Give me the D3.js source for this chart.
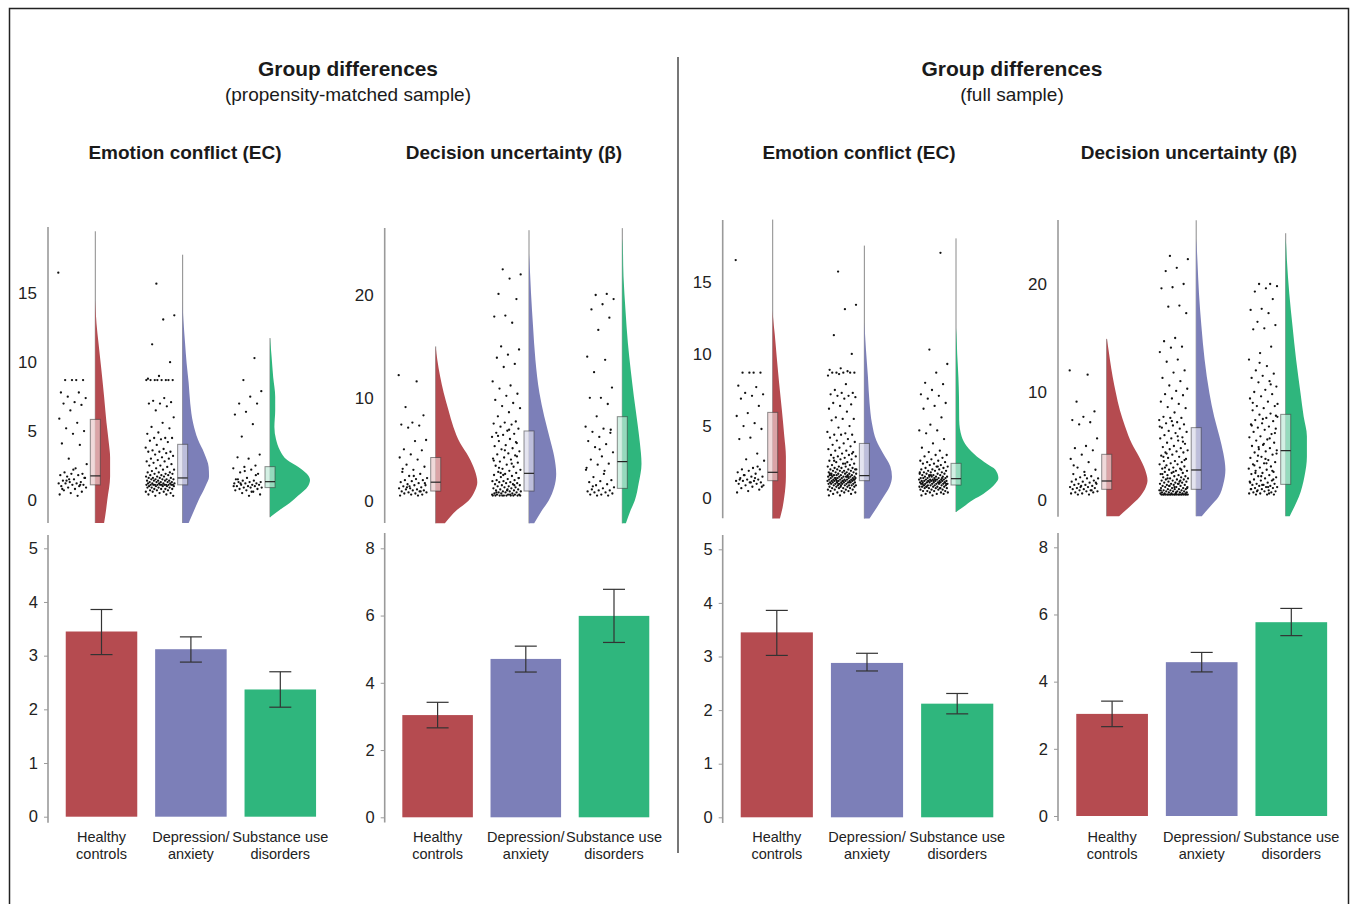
<!DOCTYPE html>
<html>
<head>
<meta charset="utf-8">
<script src="https://cdn.jsdelivr.net/npm/d3@7"></script>
<style>
  body { margin: 0; background: #fff; }
  svg { display: block; }
</style>
</head>
<body>
<svg id="chart" width="1355" height="904"></svg>
<script>
const FONT = '"Liberation Sans", Arial, Helvetica, sans-serif';

// ---- labels ----
const groups = ["Healthy controls", "Depression/anxiety", "Substance use disorders"];
const groupLines = [["Healthy", "controls"], ["Depression/", "anxiety"], ["Substance use", "disorders"]];
const colors = ["#b54b50", "#7c7fb8", "#2fb67d"];
const sectionTitles = ["Group differences", "Group differences"];
const sectionSubtitles = ["(propensity-matched sample)", "(full sample)"];
const panelTitles = ["Emotion conflict (EC)", "Decision uncertainty (β)", "Emotion conflict (EC)", "Decision uncertainty (β)"];

// ---- tick labels ----
const ecCloudTicks = [0, 5, 10, 15];
const betaCloudTicks = [0, 10, 20];
const ecBarTicks = [0, 1, 2, 3, 4, 5];
const betaBarTicks = [0, 2, 4, 6, 8];

// ---- bar means and error bars (lo / hi) ----
const ecMatchedMean = [3.45, 3.12, 2.37];
const ecMatchedLo = [3.02, 2.88, 2.04];
const ecMatchedHi = [3.86, 3.35, 2.70];
const betaMatchedMean = [3.04, 4.71, 5.99];
const betaMatchedLo = [2.66, 4.32, 5.20];
const betaMatchedHi = [3.42, 5.09, 6.78];
const ecFullMean = [3.45, 2.88, 2.12];
const ecFullLo = [3.02, 2.73, 1.93];
const ecFullHi = [3.86, 3.06, 2.31];
const betaFullMean = [3.04, 4.58, 5.77];
const betaFullLo = [2.66, 4.29, 5.37];
const betaFullHi = [3.42, 4.87, 6.18];

// ---- box plot quartiles ----
const ecMatchedQ1 = [1.10, 1.10, 0.90], ecMatchedMed = [1.75, 1.60, 1.33], ecMatchedQ3 = [5.85, 4.04, 2.42];
const betaMatchedQ1 = [0.94, 0.94, 1.20], betaMatchedMed = [1.80, 2.66, 3.80], betaMatchedQ3 = [4.20, 6.78, 8.17];
const ecFullQ1 = [1.22, 1.22, 0.92], ecFullMed = [1.80, 1.57, 1.36], ecFullQ3 = [5.95, 3.80, 2.42];
const betaFullQ1 = [0.99, 0.99, 1.45], betaFullMed = [1.76, 2.78, 4.57], betaFullQ3 = [4.23, 6.70, 7.93];

// ---- violin density profiles [value, density] and upper tail ends ----
const ecMatchedViolin = [
  [[-1.67,.22],[-0.7,.27],[0,.30],[1.7,.37],[3.1,.37],[4.1,.34],[5.6,.28],[7.5,.22],[9.5,.15],[11.4,.08],[12.8,.03],[13.8,.01],[14.5,0]],
  [[-1.67,.15],[-0.8,.28],[0,.40],[1.0,.57],[1.7,.66],[2.4,.65],[3.4,.54],[4.4,.38],[5.6,.26],[7.0,.19],[8.5,.15],[9.9,.10],[11.4,.06],[13.0,.02],[13.8,.005],[14.5,0]],
  [[-1.25,0],[-0.7,.25],[-0.2,.50],[0.3,.70],[1.0,.95],[1.45,1.0],[1.9,.92],[2.4,.71],[2.9,.43],[3.6,.25],[4.4,.15],[5.3,.11],[6.5,.13],[7.5,.13],[8.9,.08],[10.4,.04],[11.75,0]]
];
const ecMatchedTail = [19.5, 17.8, 11.75];
const betaMatchedViolin = [
  [[-2.2,.23],[-0.9,.53],[0,.82],[0.97,.98],[1.8,1.04],[2.9,.98],[4.3,.82],[5.6,.61],[7.2,.44],[8.8,.32],[10.5,.20],[12.1,.11],[13.7,.04],[15,0]],
  [[-2.2,.13],[-0.9,.33],[0,.49],[1.3,.63],[2.6,.68],[4.3,.63],[5.9,.53],[8.2,.38],[10.5,.26],[13.7,.16],[17,.10],[20.2,.05],[23.4,.01],[24,0]],
  [[-2.2,.09],[-0.9,.21],[0,.31],[1.7,.41],[3.6,.48],[5.6,.44],[7.5,.38],[10.1,.29],[12.7,.21],[15.3,.14],[18.5,.08],[21.8,.03],[25,.01],[25.5,0]]
];
const betaMatchedTail = [15.0, 26.3, 26.5];
const ecFullViolin = [
  [[-1.4,.18],[-0.6,.25],[0.1,.29],[1.5,.33],[2.9,.33],[4.3,.29],[6.1,.23],[8.0,.16],[9.8,.10],[11.4,.05],[12.5,.01],[13,0]],
  [[-1.4,.13],[-0.6,.32],[0.1,.48],[0.8,.63],[1.5,.69],[2.2,.65],[3.1,.47],[4.0,.30],[5.2,.19],[6.6,.13],[8.4,.09],[10.3,.04],[11.7,.01],[12.2,0]],
  [[-0.95,0],[-0.6,.18],[-0.1,.43],[0.3,.68],[1.0,.98],[1.4,1.06],[2.0,.98],[2.4,.77],[2.9,.52],[3.6,.27],[4.3,.14],[5.4,.08],[7.0,.075],[8.4,.06],[10.0,.03],[11.4,.01],[11.8,0]]
];
const ecFullTail = [19.3, 17.5, 18.0];
const betaFullViolin = [
  [[-1.5,.31],[-0.6,.58],[0.3,.83],[1.2,.98],[1.8,1.02],[2.8,.96],[4.0,.81],[5.2,.63],[6.8,.46],[8.3,.33],[9.9,.23],[11.4,.15],[13.0,.08],[14.8,.01],[15,0]],
  [[-1.5,.14],[-0.6,.35],[0.3,.56],[1.5,.68],[2.8,.73],[4.3,.68],[5.9,.58],[7.7,.45],[9.9,.33],[13.0,.21],[16.1,.13],[19.1,.07],[22.2,.03],[23.7,.01],[24.2,0]],
  [[-1.5,.10],[-0.6,.22],[0.3,.33],[2.2,.47],[4.0,.53],[5.9,.53],[7.7,.45],[9.9,.37],[13.0,.26],[16.1,.17],[19.1,.09],[22.2,.03],[23.7,.01],[24.2,0]]
];
const betaFullTail = [14.9, 25.9, 24.7];

// ---- individual participants (raw points) ----
const ecMatchedHC = [16.5, 8.7, 8.7, 8.7, 8.7, 7.8, 7.8, 7.5, 7.4, 7.1, 7.0, 6.9, 6.5, 5.9, 5.6, 5.2, 5.0, 4.8, 4.1, 4.0, 3.0, 2.6, 2.3, 2.0, 1.9, 1.9, 1.8, 1.8, 1.7, 1.6, 1.5, 1.4, 1.3, 1.3, 1.2, 1.2, 1.2, 1.1, 1.1, 1.0, 1.0, 0.9, 0.9, 0.8, 0.7, 0.6, 0.5, 0.4, 0.3, 1.4, 1.6, 2.2, 0.8, 1.1, 1.5];
const ecMatchedDA = [15.7, 13.4, 13.1, 11.3, 10.0, 9.0, 8.8, 8.7, 8.7, 8.7, 8.7, 8.7, 8.7, 8.7, 8.7, 7.4, 7.2, 7.1, 7.0, 7.0, 6.8, 6.5, 6.0, 5.6, 5.3, 5.2, 4.9, 4.8, 4.5, 4.5, 4.5, 4.4, 4.3, 4.2, 4.0, 3.8, 3.7, 3.6, 3.5, 3.5, 3.5, 3.4, 3.3, 3.2, 3.1, 3.0, 3.0, 2.9, 2.8, 2.8, 2.7, 2.6, 2.5, 2.5, 2.4, 2.3, 2.2, 2.2, 2.1, 2.0, 2.0, 2.0, 1.9, 1.9, 1.9, 1.8, 1.8, 1.8, 1.7, 1.7, 1.7, 1.6, 1.6, 1.6, 1.6, 1.5, 1.5, 1.5, 1.5, 1.5, 1.4, 1.4, 1.4, 1.4, 1.4, 1.3, 1.3, 1.3, 1.3, 1.3, 1.2, 1.2, 1.2, 1.2, 1.2, 1.2, 1.1, 1.1, 1.1, 1.1, 1.1, 1.1, 1.1, 1.1, 1.1, 1.1, 1.1, 1.1, 1.0, 1.0, 1.0, 1.0, 1.0, 0.9, 0.9, 0.9, 0.9, 0.8, 0.8, 0.8, 0.8, 0.7, 0.7, 0.7, 0.6, 0.6, 0.6, 0.5, 0.5, 0.4, 0.4, 0.3, 0.3];
const ecMatchedSU = [10.3, 8.7, 7.9, 7.5, 7.0, 7.0, 6.4, 6.2, 5.5, 4.6, 3.3, 3.0, 3.1, 2.5, 2.4, 2.3, 2.2, 2.0, 1.9, 1.6, 1.5, 1.4, 1.4, 1.3, 1.3, 1.3, 1.2, 1.2, 1.2, 1.1, 1.1, 1.1, 1.0, 1.0, 1.0, 0.9, 0.9, 0.9, 0.8, 0.8, 0.7, 0.7, 0.6, 0.5, 0.4, 0.3, 1.5, 1.8, 2.1, 1.0, 0.6, 1.2];

const betaMatchedHC = [12.2, 11.6, 9.1, 8.3, 7.6, 7.4, 7.3, 7.1, 5.9, 5.8, 5.0, 4.9, 4.5, 4.2, 4.0, 3.5, 3.3, 3.0, 2.8, 2.6, 2.4, 2.2, 2.1, 2.0, 2.0, 1.9, 1.8, 1.7, 1.6, 1.5, 1.5, 1.4, 1.3, 1.2, 1.2, 1.1, 1.1, 1.0, 1.0, 0.9, 0.9, 0.8, 0.8, 0.7, 0.7, 0.6, 0.6, 0.5, 0.5, 1.3, 1.7, 2.4, 3.1, 0.9, 1.4];
const betaMatchedDA = [22.5, 22.0, 21.6, 20.1, 19.6, 18.0, 17.9, 17.3, 15.0, 14.7, 14.2, 13.9, 13.3, 13.0, 11.6, 11.2, 10.9, 10.4, 10.2, 9.8, 9.5, 9.2, 9.0, 8.6, 8.2, 7.7, 7.6, 7.5, 7.4, 7.2, 7.0, 6.8, 6.6, 6.5, 6.4, 6.2, 6.0, 5.8, 5.6, 5.4, 5.3, 5.1, 5.0, 4.8, 4.6, 4.5, 4.4, 4.2, 4.1, 4.0, 3.8, 3.7, 3.5, 3.4, 3.3, 3.1, 3.0, 2.9, 2.8, 2.7, 2.6, 2.5, 2.4, 2.3, 2.2, 2.1, 2.0, 2.0, 1.9, 1.9, 1.8, 1.8, 1.7, 1.7, 1.6, 1.6, 1.5, 1.5, 1.4, 1.4, 1.3, 1.3, 1.2, 1.2, 1.1, 1.1, 1.0, 1.0, 1.0, 0.9, 0.9, 0.9, 0.8, 0.8, 0.8, 0.7, 0.7, 0.7, 0.6, 0.6, 0.6, 0.6, 0.5, 0.5, 0.5, 0.5, 0.5, 0.5, 0.5, 0.5, 0.5, 0.5, 6.9, 6.3, 5.7, 4.9, 3.9, 3.6, 2.7, 2.2, 1.1, 0.8, 1.5, 2.5, 0.6, 0.6, 3.2, 4.3];
const betaMatchedSU = [20.1, 20.0, 19.6, 19.1, 18.6, 17.8, 16.6, 14.0, 13.7, 12.5, 11.0, 10.0, 10.0, 9.4, 8.2, 7.2, 7.0, 6.7, 6.6, 6.2, 5.8, 5.5, 5.2, 4.7, 4.3, 4.0, 3.6, 3.5, 3.2, 2.9, 2.3, 2.0, 1.9, 1.8, 1.6, 1.5, 1.3, 1.2, 1.1, 1.0, 1.0, 0.9, 0.8, 0.8, 0.7, 0.6, 0.6, 0.5, 0.5, 3.0, 2.6, 1.4, 6.9, 5.0];

const ecFullHC = [16.5, 8.7, 8.7, 8.7, 8.7, 7.8, 7.7, 7.3, 7.2, 7.1, 6.9, 6.4, 5.9, 5.7, 5.2, 5.0, 4.8, 4.2, 4.1, 3.1, 2.7, 2.6, 2.1, 2.0, 2.0, 1.9, 1.8, 1.7, 1.6, 1.5, 1.5, 1.4, 1.3, 1.3, 1.2, 1.2, 1.2, 1.1, 1.1, 1.0, 1.0, 0.9, 0.9, 0.8, 0.7, 0.6, 0.5, 0.4, 1.4, 1.6, 0.8, 1.1, 1.3, 2.2];
const ecFullDA = [15.7, 13.4, 13.1, 11.3, 10.0, 9.0, 8.9, 8.8, 8.7, 8.7, 8.7, 8.7, 8.7, 8.6, 8.5, 7.9, 7.5, 7.3, 7.3, 7.2, 7.1, 7.1, 7.0, 6.9, 6.6, 6.5, 6.4, 6.2, 6.0, 5.6, 5.5, 5.5, 5.4, 5.0, 4.9, 4.6, 4.5, 4.4, 4.4, 4.4, 4.2, 4.1, 4.0, 3.9, 3.8, 3.7, 3.6, 3.5, 3.4, 3.3, 3.3, 3.2, 3.1, 3.0, 3.0, 2.9, 2.9, 2.8, 2.8, 2.7, 2.7, 2.6, 2.5, 2.5, 2.4, 2.4, 2.3, 2.3, 2.2, 2.2, 2.2, 2.1, 2.1, 2.1, 2.0, 2.0, 2.0, 2.0, 1.9, 1.9, 1.9, 1.9, 1.8, 1.8, 1.8, 1.8, 1.8, 1.7, 1.7, 1.7, 1.7, 1.7, 1.6, 1.6, 1.6, 1.6, 1.6, 1.6, 1.5, 1.5, 1.5, 1.5, 1.5, 1.5, 1.5, 1.4, 1.4, 1.4, 1.4, 1.4, 1.4, 1.4, 1.3, 1.3, 1.3, 1.3, 1.3, 1.3, 1.3, 1.3, 1.2, 1.2, 1.2, 1.2, 1.2, 1.2, 1.2, 1.2, 1.1, 1.1, 1.1, 1.1, 1.1, 1.1, 1.1, 1.1, 1.0, 1.0, 1.0, 1.0, 1.0, 1.0, 1.0, 0.9, 0.9, 0.9, 0.9, 0.9, 0.9, 0.8, 0.8, 0.8, 0.8, 0.8, 0.7, 0.7, 0.7, 0.7, 0.6, 0.6, 0.6, 0.6, 0.5, 0.5, 0.5, 0.4, 0.4, 0.4, 0.3, 0.3, 0.2, 0.2, 1.5, 1.4, 1.3, 1.2, 1.6, 1.1, 1.0, 2.0, 2.4, 2.6, 3.1, 0.9, 1.7, 1.5, 1.2, 1.3];
const ecFullSU = [17.0, 10.3, 9.3, 8.7, 8.0, 7.9, 7.5, 7.2, 7.1, 6.9, 6.6, 6.4, 6.2, 5.6, 5.1, 4.7, 4.7, 4.5, 4.1, 3.8, 3.5, 3.3, 3.2, 3.0, 3.0, 2.9, 2.8, 2.7, 2.6, 2.6, 2.5, 2.5, 2.4, 2.4, 2.3, 2.3, 2.2, 2.2, 2.1, 2.1, 2.0, 2.0, 2.0, 1.9, 1.9, 1.9, 1.8, 1.8, 1.8, 1.7, 1.7, 1.7, 1.7, 1.6, 1.6, 1.6, 1.6, 1.5, 1.5, 1.5, 1.5, 1.5, 1.4, 1.4, 1.4, 1.4, 1.4, 1.4, 1.3, 1.3, 1.3, 1.3, 1.3, 1.3, 1.3, 1.2, 1.2, 1.2, 1.2, 1.2, 1.2, 1.2, 1.2, 1.1, 1.1, 1.1, 1.1, 1.1, 1.1, 1.1, 1.1, 1.0, 1.0, 1.0, 1.0, 1.0, 1.0, 1.0, 0.9, 0.9, 0.9, 0.9, 0.9, 0.9, 0.8, 0.8, 0.8, 0.8, 0.8, 0.8, 0.7, 0.7, 0.7, 0.7, 0.7, 0.6, 0.6, 0.6, 0.6, 0.5, 0.5, 0.5, 0.5, 0.4, 0.4, 0.4, 0.3, 0.3, 0.3, 0.2, 0.2, 1.1, 1.2, 1.0, 1.3, 0.9, 1.4, 1.6, 1.8, 2.2, 0.8, 1.1, 1.2, 1.0, 0.7, 1.5];

const betaFullHC = [12.0, 11.6, 9.1, 8.2, 7.7, 7.4, 7.2, 7.0, 5.7, 5.0, 4.8, 4.6, 4.2, 3.8, 3.5, 3.0, 2.8, 2.6, 2.4, 2.2, 2.1, 2.0, 2.0, 1.9, 1.8, 1.7, 1.7, 1.6, 1.5, 1.5, 1.4, 1.4, 1.3, 1.3, 1.2, 1.2, 1.1, 1.1, 1.0, 1.0, 0.9, 0.9, 0.8, 0.8, 0.7, 0.7, 0.6, 0.6, 0.5, 0.5, 1.6, 2.3, 3.2, 0.9, 1.2];
const betaFullDA = [22.6, 22.3, 21.5, 21.2, 20.0, 19.7, 19.6, 18.0, 17.9, 17.3, 15.0, 14.7, 14.2, 14.1, 13.7, 13.0, 12.8, 12.0, 11.8, 11.3, 11.0, 10.6, 10.3, 10.1, 9.8, 9.7, 9.4, 9.1, 8.9, 8.6, 8.5, 8.1, 7.7, 7.6, 7.6, 7.4, 7.2, 7.1, 7.0, 6.9, 6.7, 6.6, 6.4, 6.3, 6.2, 6.0, 5.8, 5.7, 5.7, 5.5, 5.3, 5.2, 5.0, 4.9, 4.8, 4.7, 4.6, 4.5, 4.4, 4.4, 4.2, 4.1, 4.0, 3.9, 3.8, 3.6, 3.6, 3.5, 3.4, 3.3, 3.3, 3.2, 3.1, 3.0, 2.9, 2.9, 2.8, 2.7, 2.7, 2.6, 2.5, 2.5, 2.4, 2.3, 2.3, 2.2, 2.2, 2.1, 2.1, 2.0, 2.0, 1.9, 1.9, 1.9, 1.8, 1.8, 1.7, 1.7, 1.7, 1.6, 1.6, 1.6, 1.5, 1.5, 1.5, 1.4, 1.4, 1.4, 1.3, 1.3, 1.3, 1.2, 1.2, 1.2, 1.1, 1.1, 1.1, 1.0, 1.0, 1.0, 1.0, 0.9, 0.9, 0.9, 0.9, 0.8, 0.8, 0.8, 0.8, 0.7, 0.7, 0.7, 0.7, 0.6, 0.6, 0.6, 0.6, 0.6, 0.5, 0.5, 0.5, 0.5, 0.5, 0.5, 0.5, 0.5, 0.5, 0.5, 0.5, 0.5, 0.5, 0.5, 0.5, 0.5, 0.5, 0.5, 0.5, 0.5, 6.8, 5.9, 4.3, 3.7, 2.6, 2.4, 1.8, 1.3, 1.1, 0.7, 3.0, 5.4, 7.3, 0.9, 1.5, 2.0, 0.6, 1.2, 4.0, 2.8];
const betaFullSU = [20.0, 20.0, 19.8, 19.6, 19.3, 18.6, 17.7, 17.6, 17.3, 16.5, 16.2, 15.9, 15.8, 14.2, 13.6, 13.0, 12.4, 12.0, 11.7, 11.5, 11.3, 11.0, 10.9, 10.5, 10.2, 10.0, 9.8, 9.6, 9.4, 9.1, 8.7, 8.7, 8.5, 8.3, 8.0, 7.9, 7.7, 7.6, 7.4, 7.3, 7.1, 7.0, 6.8, 6.7, 6.6, 6.5, 6.3, 6.1, 5.9, 5.8, 5.6, 5.5, 5.3, 5.1, 5.0, 4.8, 4.7, 4.6, 4.5, 4.4, 4.2, 4.0, 3.9, 3.7, 3.6, 3.5, 3.4, 3.3, 3.1, 3.0, 2.9, 2.8, 2.7, 2.6, 2.5, 2.4, 2.3, 2.2, 2.1, 2.0, 1.9, 1.8, 1.8, 1.7, 1.6, 1.5, 1.5, 1.4, 1.4, 1.3, 1.3, 1.2, 1.2, 1.1, 1.1, 1.0, 1.0, 0.9, 0.9, 0.8, 0.8, 0.7, 0.7, 0.6, 0.6, 0.5, 0.5, 0.5, 7.5, 6.9, 5.7, 4.9, 4.3, 3.8, 3.2, 2.7, 2.2, 1.6, 1.2, 0.8, 6.2, 5.2, 9.0, 10.7, 12.7, 8.9, 3.4, 2.5, 1.9, 1.4, 1.0, 0.6, 4.1, 7.8];

// ---- panel layout (pixels) joined to the data above ----
const panels = [
  { axisX: 48, centers: [95.3, 270], cloudRange: [500, 293.3], cloudDomain: [0, 15], cloudTicks: ecCloudTicks, cloudLine: [227, 523],
    barRange: [816.7, 548.3], barDomain: [0, 5], barTicks: ecBarTicks, barLine: [535, 822.7], band: [56.8, 325], titleX: 185,
    points: [ecMatchedHC, ecMatchedDA, ecMatchedSU], violins: ecMatchedViolin, tails: ecMatchedTail,
    q1: ecMatchedQ1, med: ecMatchedMed, q3: ecMatchedQ3, mean: ecMatchedMean, lo: ecMatchedLo, hi: ecMatchedHi },
  { axisX: 384.7, centers: [435.7, 622.3], cloudRange: [500.7, 295], cloudDomain: [0, 20], cloudTicks: betaCloudTicks, cloudLine: [228, 523],
    barRange: [817.3, 548.3], barDomain: [0, 8], barTicks: betaBarTicks, barLine: [533, 822.5], band: [393.5, 658.1], titleX: 514,
    points: [betaMatchedHC, betaMatchedDA, betaMatchedSU], violins: betaMatchedViolin, tails: betaMatchedTail,
    q1: betaMatchedQ1, med: betaMatchedMed, q3: betaMatchedQ3, mean: betaMatchedMean, lo: betaMatchedLo, hi: betaMatchedHi },
  { axisX: 722.7, centers: [772.7, 956], cloudRange: [498.3, 281.7], cloudDomain: [0, 15], cloudTicks: ecCloudTicks, cloudLine: [220, 518.3],
    barRange: [817.3, 549.3], barDomain: [0, 5], barTicks: ecBarTicks, barLine: [535, 823], band: [731.7, 1002.3], titleX: 859,
    points: [ecFullHC, ecFullDA, ecFullSU], violins: ecFullViolin, tails: ecFullTail,
    q1: ecFullQ1, med: ecFullMed, q3: ecFullQ3, mean: ecFullMean, lo: ecFullLo, hi: ecFullHi },
  { axisX: 1058, centers: [1106.7, 1285.7], cloudRange: [500, 284], cloudDomain: [0, 20], cloudTicks: betaCloudTicks, cloudLine: [220, 516.7],
    barRange: [816, 547.3], barDomain: [0, 8], barTicks: betaBarTicks, barLine: [533, 821], band: [1067.3, 1336.1], titleX: 1189,
    points: [betaFullHC, betaFullDA, betaFullSU], violins: betaFullViolin, tails: betaFullTail,
    q1: betaFullQ1, med: betaFullMed, q3: betaFullQ3, mean: betaFullMean, lo: betaFullLo, hi: betaFullHi }
];

const svg = d3.select("#chart").attr("font-family", FONT);

// frame and divider
svg.append("path")
  .attr("d", "M9.5,904V8.5H1348.5V904")
  .attr("fill", "none").attr("stroke", "#222").attr("stroke-width", 1.5);
svg.append("line")
  .attr("x1", 678).attr("x2", 678).attr("y1", 57).attr("y2", 853)
  .attr("stroke", "#555").attr("stroke-width", 1.6);

// section headers
[348, 1012].forEach((cx, i) => {
  svg.append("text").attr("x", cx).attr("y", 76).attr("text-anchor", "middle")
    .attr("font-size", 21).attr("font-weight", "bold").attr("fill", "#1a1a1a")
    .attr("textLength", i === 0 ? 180 : 181).attr("lengthAdjust", "spacingAndGlyphs")
    .text(sectionTitles[i]);
  svg.append("text").attr("x", cx).attr("y", 101).attr("text-anchor", "middle")
    .attr("font-size", 19).attr("fill", "#1a1a1a")
    .text(sectionSubtitles[i]);
});

const wScale = d3.scaleLinear().domain([0, 1]).range([0, 40]);

panels.forEach((p, pi) => {
  const g = svg.append("g");

  g.append("text").attr("x", p.titleX).attr("y", 159).attr("text-anchor", "middle")
    .attr("font-size", 19).attr("font-weight", "bold").attr("fill", "#1a1a1a")
    .text(panelTitles[pi]);

  // ---- raincloud ----
  const y = d3.scaleLinear().domain(p.cloudDomain).range(p.cloudRange);
  const xc = d3.scalePoint().domain(groups).range(p.centers);

  g.append("line").attr("x1", p.axisX).attr("x2", p.axisX)
    .attr("y1", p.cloudLine[0]).attr("y2", p.cloudLine[1])
    .attr("stroke", "#9a9a9a").attr("stroke-width", 1.6);
  const ay = g.append("g").attr("transform", `translate(${p.axisX},0)`)
    .call(d3.axisLeft(y).tickValues(p.cloudTicks).tickSize(0).tickPadding(11).tickFormat(d3.format("d")));
  ay.select(".domain").remove();
  ay.attr("font-family", FONT).attr("font-size", 17);
  ay.selectAll("text").attr("fill", "#222");

  groups.forEach((grp, gi) => {
    const base = xc(grp);
    // jittered raw points
    g.append("g").selectAll("circle").data(p.points[gi]).join("circle")
      .attr("cx", (d, i) => base - 37 + 29 * ((i * 0.618034 + gi * 0.37) % 1))
      .attr("cy", d => y(d))
      .attr("r", 1.15)
      .attr("fill", "#111");

    // thin tail of the half violin
    const prof = p.violins[gi];
    g.append("line").attr("x1", base).attr("x2", base)
      .attr("y1", y(p.tails[gi])).attr("y2", y(prof[0][0]))
      .attr("stroke", "#8a8a8a").attr("stroke-width", 1);

    const area = d3.area()
      .y(d => y(d[0]))
      .x0(base)
      .x1(d => base + wScale(d[1]))
      .curve(d3.curveMonotoneY);
    g.append("path").datum(prof).attr("d", area).attr("fill", colors[gi]);

    // box
    const light = d3.interpolateRgb(colors[gi], "#fff")(0.7);
    g.append("rect")
      .attr("x", base - 5).attr("width", 10)
      .attr("y", y(p.q3[gi])).attr("height", y(p.q1[gi]) - y(p.q3[gi]))
      .attr("fill", light).attr("fill-opacity", 0.7)
      .attr("stroke", "#333").attr("stroke-opacity", 0.55).attr("stroke-width", 1);
    g.append("line").attr("x1", base - 5).attr("x2", base + 5)
      .attr("y1", y(p.med[gi])).attr("y2", y(p.med[gi]))
      .attr("stroke", "#222").attr("stroke-width", 1.2);
  });

  // ---- bars ----
  const yb = d3.scaleLinear().domain(p.barDomain).range(p.barRange);
  const xb = d3.scaleBand().domain(groups).range(p.band).paddingInner(0.2).paddingOuter(0.1);

  g.append("line").attr("x1", p.axisX).attr("x2", p.axisX)
    .attr("y1", p.barLine[0]).attr("y2", p.barLine[1])
    .attr("stroke", "#9a9a9a").attr("stroke-width", 1.6);
  const ab = g.append("g").attr("transform", `translate(${p.axisX},0)`)
    .call(d3.axisLeft(yb).tickValues(p.barTicks).tickSize(4).tickPadding(6).tickFormat(d3.format("d")));
  ab.select(".domain").remove();
  ab.attr("font-family", FONT).attr("font-size", 16.5);
  ab.selectAll("line").attr("stroke", "#9a9a9a");
  ab.selectAll("text").attr("fill", "#222");

  g.append("g").selectAll("rect").data(groups).join("rect")
    .attr("x", d => xb(d))
    .attr("width", xb.bandwidth())
    .attr("y", (d, i) => yb(p.mean[i]))
    .attr("height", (d, i) => yb(0) - yb(p.mean[i]))
    .attr("fill", (d, i) => colors[i]);

  const cap = 11;
  groups.forEach((grp, gi) => {
    const cx = xb(grp) + xb.bandwidth() / 2;
    const eb = g.append("g").attr("stroke", "#333").attr("stroke-width", 1.2);
    eb.append("line").attr("x1", cx).attr("x2", cx).attr("y1", yb(p.lo[gi])).attr("y2", yb(p.hi[gi]));
    eb.append("line").attr("x1", cx - cap).attr("x2", cx + cap).attr("y1", yb(p.hi[gi])).attr("y2", yb(p.hi[gi]));
    eb.append("line").attr("x1", cx - cap).attr("x2", cx + cap).attr("y1", yb(p.lo[gi])).attr("y2", yb(p.lo[gi]));

    const t = g.append("text").attr("text-anchor", "middle").attr("font-size", 14.5).attr("fill", "#222");
    groupLines[gi].forEach((ln, li) => {
      t.append("tspan").attr("x", cx).attr("y", 842 + li * 16.5).text(ln);
    });
  });
});
</script>
</body>
</html>
